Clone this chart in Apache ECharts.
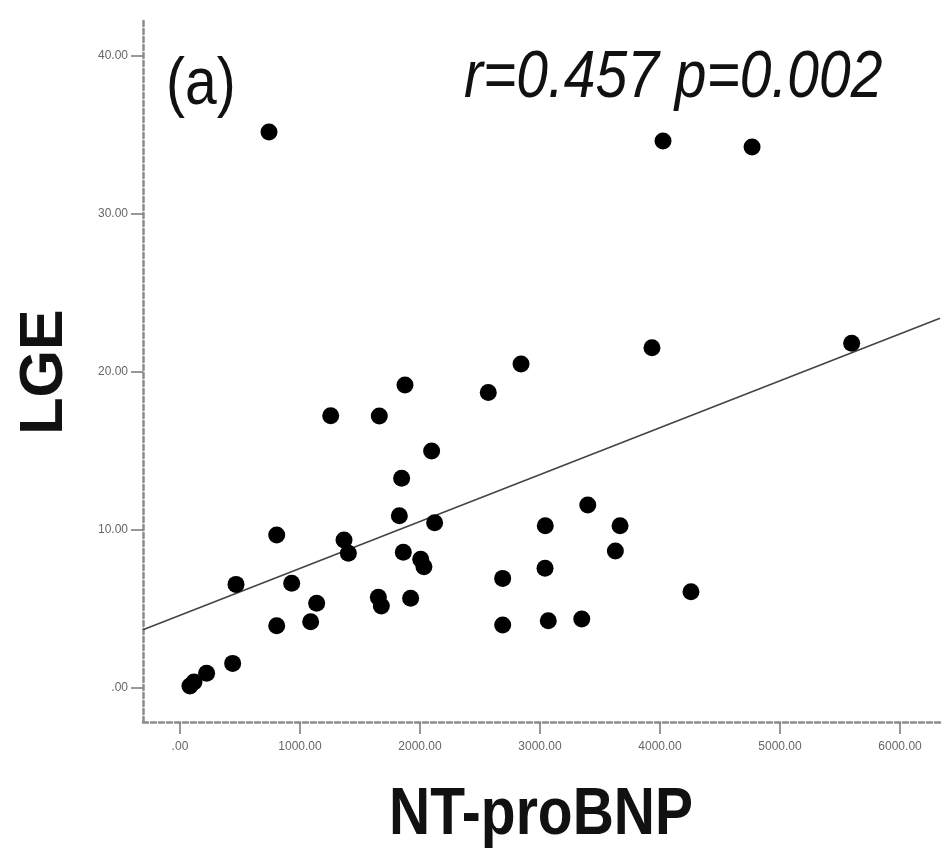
<!DOCTYPE html>
<html>
<head>
<meta charset="utf-8">
<script src="https://cdn.jsdelivr.net/npm/echarts@6/dist/echarts.min.js"></script>
<style>
html,body{margin:0;padding:0;background:#fff;}
#chart{width:943px;height:850px;}
</style>
</head>
<body>
<div id="chart"></div>
<script>
// NT-proBNP (x) values
const ntProBNP = [742, 4025, 4767, 5597, 3933, 2842, 2569, 1875, 1256, 1661,
  2097, 1847, 1828, 2122, 806, 1367, 1403, 1861, 2006, 2033,
  467, 931, 1139, 1653, 1678, 1922, 1089, 806, 439, 222,
  83, 117, 3398, 3044, 3667, 3628, 3042, 2689, 4258, 2689,
  3069, 3348];
// LGE (y) values
const lge = [35.19, 34.62, 34.24, 21.82, 21.54, 20.51, 18.71, 19.18, 17.23, 17.22,
  15.0, 13.27, 10.91, 10.46, 9.68, 9.37, 8.53, 8.59, 8.15, 7.68,
  6.56, 6.63, 5.36, 5.74, 5.19, 5.68, 4.20, 3.94, 1.56, 0.93,
  0.13, 0.38, 11.58, 10.27, 10.27, 8.67, 7.58, 6.94, 6.09, 3.99,
  4.26, 4.37];
// regression line: intercept, slope
const fitIntercept = 4.6;
const fitSlope = 0.00297;
// axis ticks
const xTickValues = [0, 1000, 2000, 3000, 4000, 5000, 6000];
const xTickLabels = ['.00', '1000.00', '2000.00', '3000.00', '4000.00', '5000.00', '6000.00'];
const yTickValues = [0, 10, 20, 30, 40];
const yTickLabels = ['.00', '10.00', '20.00', '30.00', '40.00'];
const xRange = [-308, 6333];
const yRange = [-2.15, 42.28];
const statText = 'r=0.457 p=0.002';
const panelText = '(a)';
const xName = 'NT-proBNP';
const yName = 'LGE';

const points = ntProBNP.map((x, i) => [x, lge[i]]);
const fitLine = [xRange[0], xRange[1]].map(x => [x, fitIntercept + fitSlope * x]);

const chart = echarts.init(document.getElementById('chart'), null, {renderer: 'canvas'});
const axisLineStyle = {color: '#8c8c8c', width: 2.5, type: [5, 3]};
const labelFont = {fontFamily: 'Liberation Sans', fontSize: 12, color: '#666'};

chart.setOption({
  animation: false,
  backgroundColor: '#fff',
  grid: {left: 143, right: 3, top: 20, bottom: 128, containLabel: false},
  xAxis: {
    type: 'value', min: xRange[0], max: xRange[1],
    axisLine: {show: true, onZero: false, lineStyle: axisLineStyle},
    axisTick: {show: true, length: 12, customValues: xTickValues, lineStyle: {color: '#777', width: 1.5}},
    axisLabel: Object.assign({
      show: true, margin: 19, customValues: xTickValues,
      formatter: v => { const i = xTickValues.indexOf(v); return i >= 0 ? xTickLabels[i] : ''; }
    }, labelFont),
    splitLine: {show: false}
  },
  yAxis: {
    type: 'value', min: yRange[0], max: yRange[1],
    axisLine: {show: true, onZero: false, lineStyle: axisLineStyle},
    axisTick: {show: true, length: 12, customValues: yTickValues, lineStyle: {color: '#777', width: 1.5}},
    axisLabel: Object.assign({
      show: true, margin: 15, customValues: yTickValues,
      formatter: v => { const i = yTickValues.indexOf(v); return i >= 0 ? yTickLabels[i] : ''; }
    }, labelFont),
    splitLine: {show: false}
  },
  series: [
    {
      type: 'line', data: fitLine, symbol: 'none', silent: true,
      lineStyle: {color: '#444', width: 1.6}, z: 2
    },
    {
      type: 'scatter', data: points, symbol: 'circle', symbolSize: 17,
      itemStyle: {color: '#000', opacity: 1}, z: 3
    }
  ],
  graphic: [
    {
      type: 'text', x: 166, y: 86, scaleY: 1.16,
      style: {text: panelText, x: 0, y: 0, fontFamily: 'Liberation Sans', fontSize: 57,
        fill: '#111', textAlign: 'left', textVerticalAlign: 'middle'}
    },
    {
      type: 'text', x: 464, y: 79, scaleY: 1.16,
      style: {text: statText, x: 0, y: 0, fontFamily: 'Liberation Sans', fontStyle: 'italic', fontSize: 57,
        fill: '#111', textAlign: 'left', textVerticalAlign: 'middle'}
    },
    {
      type: 'text', x: 541, y: 816, scaleY: 1.16,
      style: {text: xName, x: 0, y: 0, fontFamily: 'Liberation Sans', fontWeight: 'bold', fontSize: 57,
        fill: '#111', textAlign: 'center', textVerticalAlign: 'middle'}
    },
    {
      type: 'text', x: 45, y: 372, rotation: Math.PI / 2,
      style: {text: yName, x: 0, y: 0, fontFamily: 'Liberation Sans', fontWeight: 'bold', fontSize: 61,
        fill: '#111', textAlign: 'center', textVerticalAlign: 'middle'}
    }
  ]
});
</script>
</body>
</html>
